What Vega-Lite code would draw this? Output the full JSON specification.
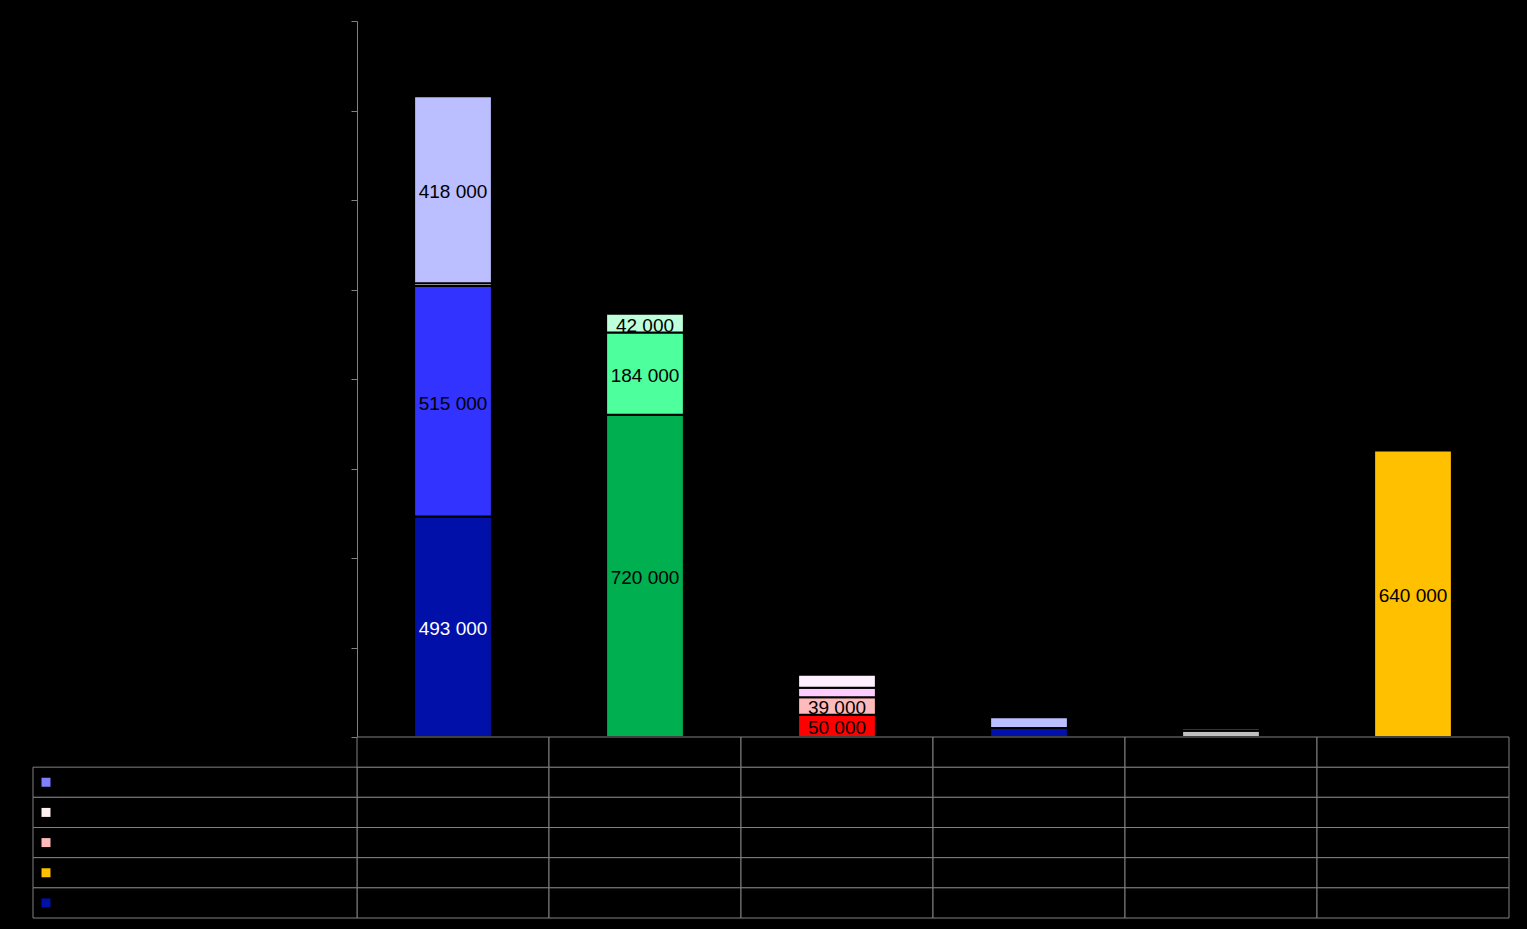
{
  "$schema": "https://vega.github.io/schema/vega-lite/v6.json",
  "width": 1527,
  "height": 929,
  "autosize": {"type": "none"},
  "padding": 0,
  "background": "#000000",
  "config": {
    "view": {"stroke": null},
    "font": "Liberation Sans",
    "locale": {"number": {"decimal": ",", "thousands": " ", "grouping": [3], "currency": ["", " €"]}}
  },
  "data": {
    "values": [
      {"cat": "Cat 1", "series": "S1", "value": 493000},
      {"cat": "Cat 1", "series": "S2", "value": 515000},
      {"cat": "Cat 1", "series": "S3", "value": 6000},
      {"cat": "Cat 1", "series": "S4", "value": 418000},
      {"cat": "Cat 1", "series": "S5", "value": 0},
      {"cat": "Cat 2", "series": "S1", "value": 720000},
      {"cat": "Cat 2", "series": "S2", "value": 184000},
      {"cat": "Cat 2", "series": "S3", "value": 42000},
      {"cat": "Cat 2", "series": "S4", "value": 0},
      {"cat": "Cat 2", "series": "S5", "value": 0},
      {"cat": "Cat 3", "series": "S1", "value": 50000},
      {"cat": "Cat 3", "series": "S2", "value": 39000},
      {"cat": "Cat 3", "series": "S3", "value": 21000},
      {"cat": "Cat 3", "series": "S4", "value": 29000},
      {"cat": "Cat 3", "series": "S5", "value": 0},
      {"cat": "Cat 4", "series": "S1", "value": 20000},
      {"cat": "Cat 4", "series": "S2", "value": 24000},
      {"cat": "Cat 4", "series": "S3", "value": 0},
      {"cat": "Cat 4", "series": "S4", "value": 0},
      {"cat": "Cat 4", "series": "S5", "value": 0},
      {"cat": "Cat 5", "series": "S1", "value": 14000},
      {"cat": "Cat 5", "series": "S2", "value": 5000},
      {"cat": "Cat 5", "series": "S3", "value": 0},
      {"cat": "Cat 5", "series": "S4", "value": 0},
      {"cat": "Cat 5", "series": "S5", "value": 0},
      {"cat": "Cat 6", "series": "S1", "value": 640000},
      {"cat": "Cat 6", "series": "S2", "value": 0},
      {"cat": "Cat 6", "series": "S3", "value": 0},
      {"cat": "Cat 6", "series": "S4", "value": 0},
      {"cat": "Cat 6", "series": "S5", "value": 0}
    ]
  },
  "layer": [
    {
      "transform": [
        {"filter": "datum.value > 0"},
        {"stack": "value", "groupby": ["cat"], "sort": [{"field": "series", "order": "ascending"}], "as": ["y0", "y1"]},
        {"calculate": "datum.cat + '|' + datum.series", "as": "seg"}
      ],
      "mark": {"type": "bar", "stroke": "#000000", "strokeWidth": 2},
      "encoding": {
        "x": {"field": "cat", "type": "nominal", "scale": {"domain": ["Cat 1", "Cat 2", "Cat 3", "Cat 4", "Cat 5", "Cat 6"], "range": [357, 1509], "paddingInner": 0.595, "paddingOuter": 0.2975}, "axis": null},
        "y": {
          "field": "y0", "type": "quantitative",
          "scale": {"domain": [0, 1600000], "range": [737, 21], "nice": false},
          "axis": {
            "values": [0, 200000, 400000, 600000, 800000, 1000000, 1200000, 1400000, 1600000],
            "offset": -357, "tickSize": 6, "tickColor": "#808080", "domainColor": "#808080",
            "tickWidth": 1, "domainWidth": 1,
            "labelColor": "#000000", "labelFont": "Liberation Sans", "labelFontSize": 12,
            "format": ",d", "grid": false, "title": null
          }
        },
        "y2": {"field": "y1"},
        "color": {
          "field": "seg", "type": "nominal", "legend": null,
          "scale": {
            "domain": ["Cat 1|S1", "Cat 1|S2", "Cat 1|S3", "Cat 1|S4", "Cat 2|S1", "Cat 2|S2", "Cat 2|S3", "Cat 3|S1", "Cat 3|S2", "Cat 3|S3", "Cat 3|S4", "Cat 4|S1", "Cat 4|S2", "Cat 5|S1", "Cat 5|S2", "Cat 6|S1"],
            "range": ["#0010A8", "#3333FF", "#FFFFFF", "#BBBEFF", "#00B050", "#4DFF9D", "#BEFFDC", "#FF0000", "#FFBBBB", "#FFCCFF", "#FFF0FF", "#0010A8", "#BBBEFF", "#C0C0C0", "#D9D9D9", "#FFC000"]
          }
        }
      }
    },
    {
      "transform": [
        {"filter": "datum.value > 0"},
        {"stack": "value", "groupby": ["cat"], "sort": [{"field": "series", "order": "ascending"}], "as": ["y0", "y1"]},
        {"calculate": "(datum.y0 + datum.y1) / 2", "as": "mid"},
        {"calculate": "datum.cat + '|' + datum.series", "as": "seg"},
        {"filter": "datum.value >= 30000"}
      ],
      "mark": {"type": "text", "font": "Liberation Sans", "fontSize": 19, "align": "center", "baseline": "middle", "dy": 2.5},
      "encoding": {
        "x": {"field": "cat", "type": "nominal", "scale": {"domain": ["Cat 1", "Cat 2", "Cat 3", "Cat 4", "Cat 5", "Cat 6"], "range": [357, 1509], "paddingInner": 0.595, "paddingOuter": 0.2975}, "axis": null},
        "y": {"field": "mid", "type": "quantitative", "scale": {"domain": [0, 1600000], "range": [737, 21], "nice": false}, "axis": null},
        "text": {"field": "value", "type": "quantitative", "format": ",d"},
        "color": {"condition": {"test": "datum.seg === 'Cat 1|S1'", "value": "#FFFFFF"}, "value": "#000000"}
      }
    },
    {
      "mark": {"type": "rect", "fill": "#000000", "stroke": "#808080", "strokeWidth": 1},
      "encoding": {
        "x": {"field": "cat", "type": "nominal", "scale": {"domain": ["Cat 1", "Cat 2", "Cat 3", "Cat 4", "Cat 5", "Cat 6"], "range": [357, 1509], "paddingInner": 0, "paddingOuter": 0}, "axis": null},
        "y": {"field": "series", "type": "nominal", "scale": {"domain": ["hdr", "S1", "S2", "S3", "S4", "S5"], "range": [737, 918], "paddingInner": 0, "paddingOuter": 0}, "axis": null}
      }
    },
    {
      "transform": [{"aggregate": [{"op": "count", "as": "n"}], "groupby": ["cat"]}],
      "mark": {"type": "rect", "fill": "#000000", "stroke": "#808080", "strokeWidth": 1},
      "encoding": {
        "x": {"field": "cat", "type": "nominal", "scale": {"domain": ["Cat 1", "Cat 2", "Cat 3", "Cat 4", "Cat 5", "Cat 6"], "range": [357, 1509], "paddingInner": 0, "paddingOuter": 0}, "axis": null},
        "y": {"datum": "hdr", "type": "nominal", "scale": {"domain": ["hdr", "S1", "S2", "S3", "S4", "S5"], "range": [737, 918], "paddingInner": 0, "paddingOuter": 0}, "axis": null}
      }
    },
    {
      "transform": [{"aggregate": [{"op": "count", "as": "n"}], "groupby": ["series"]}],
      "mark": {"type": "rect", "fill": "#000000", "stroke": "#808080", "strokeWidth": 1},
      "encoding": {
        "x": {"datum": "legend", "type": "nominal", "scale": {"domain": ["legend"], "range": [33, 357], "paddingInner": 0, "paddingOuter": 0}, "axis": null},
        "y": {"field": "series", "type": "nominal", "scale": {"domain": ["hdr", "S1", "S2", "S3", "S4", "S5"], "range": [737, 918], "paddingInner": 0, "paddingOuter": 0}, "axis": null}
      }
    },
    {
      "transform": [{"aggregate": [{"op": "count", "as": "n"}], "groupby": ["series"]}],
      "mark": {"type": "square", "size": 81, "filled": true, "opacity": 1},
      "encoding": {
        "x": {"datum": "legend", "type": "nominal", "scale": {"domain": ["legend"], "range": [33, 59], "paddingInner": 0, "paddingOuter": 0}, "axis": null},
        "y": {"field": "series", "type": "nominal", "scale": {"domain": ["hdr", "S1", "S2", "S3", "S4", "S5"], "range": [737, 918], "paddingInner": 0, "paddingOuter": 0}, "axis": null},
        "color": {"field": "series", "type": "nominal", "legend": null, "scale": {"domain": ["S1", "S2", "S3", "S4", "S5"], "range": ["#7F7FFF", "#FFF0F0", "#FFBBBB", "#FFC000", "#0010A8"]}}
      }
    }
  ],
  "resolve": {"scale": {"x": "independent", "y": "independent", "color": "independent"}}
}
